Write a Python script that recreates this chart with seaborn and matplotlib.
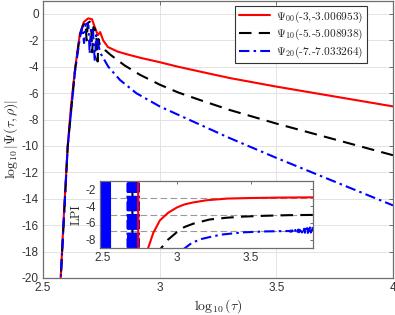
import numpy as np
import pandas as pd
import matplotlib
matplotlib.use("Agg")
import matplotlib.pyplot as plt
import seaborn as sns

# ---------------- data ----------------
red_x = [2.573, 2.59, 2.606, 2.62, 2.637, 2.658, 2.675, 2.694, 2.71, 2.722, 2.735, 2.745,
         2.758, 2.778, 2.82, 2.87, 2.92, 3.0, 3.08, 3.17, 3.3, 3.5, 3.75, 4.0]
red_y = [-21, -15, -10, -7, -4.2, -1.5, -0.6, -0.33, -0.4, -1.0, -1.6, -1.37,
         -2.0, -2.5, -2.85, -3.1, -3.33, -3.65, -4.0, -4.35, -4.85, -5.5, -6.25, -7.0]

black_x = [2.573, 2.606, 2.637, 2.658, 2.672, 2.682, 2.687, 2.692, 2.700, 2.706, 2.711, 2.716,
           2.722, 2.728, 2.734, 2.738, 2.744, 2.79, 2.85, 2.915, 3.0, 3.08, 3.17, 3.3, 3.5, 3.75, 4.0]
black_y = [-21, -10, -4.3, -1.6, -0.85, -0.65, -2.0, -0.7, -0.58, -0.75, -2.9, -1.0,
           -1.1, -1.5, -3.6, -1.9, -2.4, -3.1, -3.9, -4.6, -5.35, -5.95, -6.5, -7.27, -8.3, -9.5, -10.7]

blue_x = [2.573, 2.606, 2.637, 2.658, 2.668, 2.676, 2.682, 2.69, 2.695, 2.700, 2.706, 2.714,
          2.722, 2.728, 2.736, 2.744, 2.78, 2.83, 2.9, 3.0, 3.1, 3.2, 3.3, 3.5, 3.75, 4.0]
blue_y = [-21, -10, -4.4, -1.8, -1.0, -2.2, -0.8, -0.7, -0.9, -3.0, -1.0, -1.3,
          -3.6, -1.6, -2.2, -2.9, -4.0, -5.0, -6.0, -7.0, -7.8, -8.6, -9.4, -10.9, -12.7, -14.5]

labels = [r"$\Psi_{00}$(-3,-3.006953)", r"$\Psi_{10}$(-5.-5.008938)", r"$\Psi_{20}$(-7.-7.033264)"]

# inset: local power index
lpi_red_x = [2.700, 2.737, 2.739, 2.80, 2.84, 2.885, 2.94, 3.0, 3.05, 3.11, 3.2, 3.34, 3.5, 3.7, 3.92]
lpi_red_y = [30, 30, -30, -9.3, -7.2, -5.7, -4.8, -4.16, -3.8, -3.56, -3.3, -3.1, -3.03, -2.98, -2.95]

lpi_black_x = [2.675, 2.678, 2.698, 2.701, 2.718, 2.721, 2.732,
               2.885, 2.94, 3.0, 3.05, 3.11, 3.22, 3.34, 3.45, 3.6, 3.75, 3.92]
lpi_black_y = [30, -30, -30, 30, 30, -30, -30,
               -9.2, -8.0, -7.1, -6.5, -6.1, -5.6, -5.38, -5.25, -5.15, -5.08, -5.05]

lpi_blue_x = [2.480, 2.483, 2.486, 2.489, 2.492, 2.495, 2.498, 2.501, 2.504, 2.507, 2.510,
              2.513, 2.516, 2.519, 2.522, 2.525, 2.528, 2.531, 2.534, 2.537, 2.540, 2.543, 2.546, 2.549,
              2.662, 2.667, 2.672, 2.677, 2.682, 2.687, 2.692, 2.697, 2.702, 2.707, 2.712, 2.717,
              2.722, 2.727, 2.732, 2.737, 2.742, 2.745]
lpi_blue_y = [30, -31, 28, -25, 32, -29, 27, -30, 31, -28, 29,
              -32, 30, -27, 28, -31, 30, -29, 27, -30, 31, -28, 29, -30,
              30, -30, 29, -28, 31, -30, 27, -29, 30, -31, 28, -30,
              29, -27, 30, -30, 28, -30]

lpi_blue2_x = [3.04, 3.1, 3.16, 3.22, 3.3, 3.45, 3.6, 3.70, 3.76,
               3.765, 3.770, 3.775, 3.780, 3.785, 3.790, 3.795, 3.800, 3.805, 3.810,
               3.815, 3.820, 3.825, 3.830, 3.835, 3.840, 3.845, 3.850, 3.855, 3.860,
               3.865, 3.870, 3.875, 3.880, 3.885, 3.890, 3.895, 3.900, 3.905, 3.910, 3.915, 3.918]
lpi_blue2_y = [-9.2, -8.4, -7.95, -7.7, -7.4, -7.13, -7.02, -6.99, -6.97,
               -7.05, -6.92, -7.04, -6.9, -7.08, -6.88, -7.02, -6.85, -7.1, -6.86,
               -7.05, -6.8, -7.12, -6.82, -7.0, -6.75, -7.15, -6.78, -7.02, -6.7,
               -7.18, -6.72, -7.05, -6.62, -7.2, -6.7, -6.95, -6.55, -7.15, -6.6, -6.9, -6.5]

lpi_ref_levels = [-3, -5, -7]

main_xticks = [2.5, 3, 3.5, 4]
main_yticks = list(range(-20, 1, 2))
inset_xticks = [2.5, 3, 3.5]
inset_yticks = [-8, -6, -4, -2]

# ---------------- style ----------------
sns.set_style("white")
plt.rcParams["font.family"] = ["Liberation Sans", "DejaVu Sans"]
plt.rcParams["mathtext.fontset"] = "cm"
plt.rcParams["axes.unicode_minus"] = False

spine_c = "#6e6e6e"
tick_c = "#333333"

fig = plt.figure(figsize=(3.95, 3.15), dpi=100)
ax = fig.add_axes([43 / 395, 37 / 315, 350 / 395, 277.2 / 315])

df_r = pd.DataFrame({"x": red_x, "y": red_y})
df_k = pd.DataFrame({"x": black_x, "y": black_y})
df_b = pd.DataFrame({"x": blue_x, "y": blue_y})

sns.lineplot(data=df_r, x="x", y="y", ax=ax, color="#ff0000", lw=1.5, sort=False,
             estimator=None, label=labels[0])
sns.lineplot(data=df_k, x="x", y="y", ax=ax, color="black", lw=1.5, sort=False,
             estimator=None, label=labels[1], dashes=False)
ax.lines[-1].set_dashes([6, 3.5])
sns.lineplot(data=df_b, x="x", y="y", ax=ax, color="#0000ff", lw=1.5, sort=False,
             estimator=None, label=labels[2])
ax.lines[-1].set_linestyle((0, (5, 2, 1.2, 2)))

ax.set_xlim(2.5, 4)
ax.set_ylim(-20, 1)
ax.set_xticks(main_xticks)
ax.set_xticklabels(["2.5", "3", "3.5", "4"])
ax.set_yticks(main_yticks)
ax.grid(True, color="#e3e3e3", lw=0.7)
ax.set_axisbelow(True)
for s in ax.spines.values():
    s.set_color(spine_c)
    s.set_linewidth(0.9)
ax.tick_params(direction="in", length=3, width=0.7, color=spine_c, labelcolor=tick_c,
               labelsize=8.5, top=True, right=True, pad=3)
ax.set_xlabel(r"$\log_{10}(\tau)$", fontsize=10, labelpad=2)
ax.set_ylabel(r"$\log_{10}|\Psi(\tau,\rho)|$", fontsize=10, labelpad=1)

leg = ax.legend(loc="upper right", bbox_to_anchor=(0.925, 0.982), fancybox=False,
                framealpha=1, edgecolor="#333333", prop={"family": "cmr10", "size": 8.2},
                handlelength=2.8, labelspacing=0.2, borderpad=0.3, handletextpad=0.5,
                borderaxespad=0)
leg.get_frame().set_linewidth(0.8)

# ---------------- inset ----------------
ins = fig.add_axes([100 / 395, 67 / 315, 213 / 395, 67 / 315])
ins.set_facecolor("white")
for lv in lpi_ref_levels:
    ins.axhline(lv, color="#9a9a9a", lw=0.8, dashes=[6, 3])

sns.lineplot(x=lpi_black_x, y=lpi_black_y, ax=ins, color="black", lw=1.5,
             sort=False, estimator=None)
ins.lines[-1].set_dashes([6, 3.5])
sns.lineplot(x=lpi_blue_x[:24], y=lpi_blue_y[:24], ax=ins, color="#0000ff", lw=1.5,
             sort=False, estimator=None)
sns.lineplot(x=lpi_blue_x[24:], y=lpi_blue_y[24:], ax=ins, color="#0000ff", lw=1.3,
             sort=False, estimator=None)
ins.lines[-1].set_linestyle((0, (5, 2, 1.2, 2)))
sns.lineplot(x=lpi_red_x, y=lpi_red_y, ax=ins, color="#ff0000", lw=1.5,
             sort=False, estimator=None)
sns.lineplot(x=lpi_blue2_x, y=lpi_blue2_y, ax=ins, color="#0000ff", lw=1.5,
             sort=False, estimator=None)
ins.lines[-1].set_linestyle((0, (5, 2, 1.2, 2)))

ins.set_xlim(2.48, 3.92)
ins.set_ylim(-9, -1)
ins.set_xticks(inset_xticks)
ins.set_xticklabels(["2.5", "3", "3.5"])
ins.set_yticks(inset_yticks)
ins.set_xlabel("")
ins.set_ylabel("LPI", family="cmr10", fontsize=9, labelpad=2)
for s in ins.spines.values():
    s.set_color(spine_c)
    s.set_linewidth(0.9)
ins.tick_params(direction="in", length=2, width=0.7, color=spine_c, labelcolor=tick_c,
                labelsize=8.5, top=True, right=True, pad=3)
ins.tick_params(axis="y", which="major", left=True, length=7.2, width=1.4, color="black")
ins.tick_params(axis="y", right=True)
for t in ins.yaxis.get_major_ticks():
    t.tick2line.set_markersize(2)
    t.tick2line.set_markeredgecolor(spine_c)
    t.tick2line.set_markeredgewidth(0.7)

fig.savefig("out.png", dpi=100)
